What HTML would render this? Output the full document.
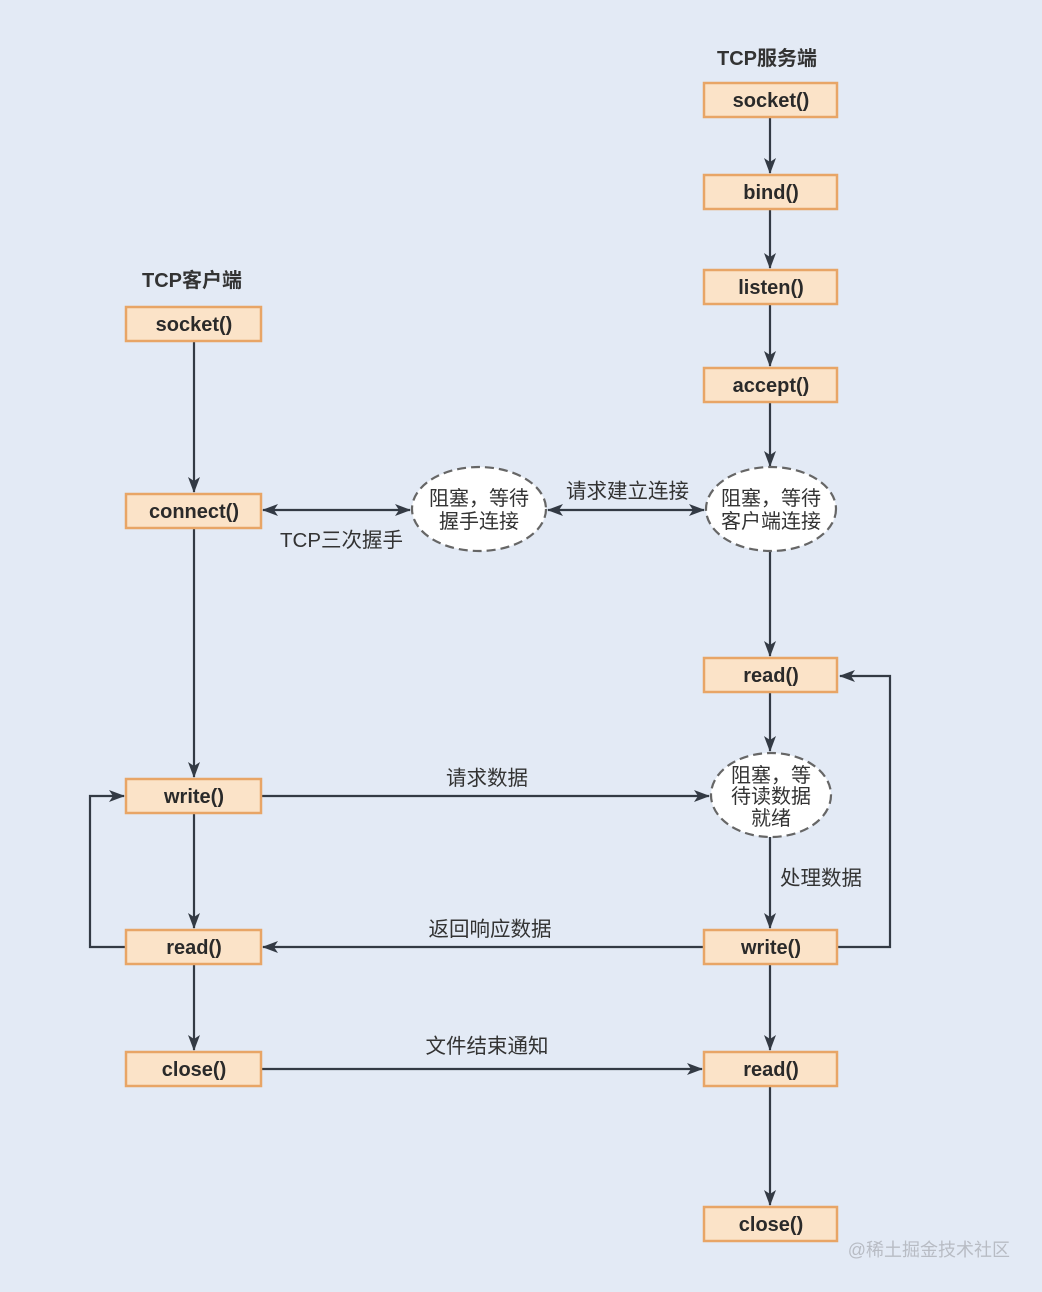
<!DOCTYPE html>
<html><head><meta charset="utf-8"><style>
html,body{margin:0;padding:0;background:#e3eaf5;}
svg{display:block;font-family:"Liberation Sans","Noto Sans CJK SC",sans-serif;}
.b{fill:#fbe3c8;stroke:#e8a566;stroke-width:2.5;}
.bt{font-size:20px;font-weight:bold;fill:#2a2a2a;text-anchor:middle;}
.l{stroke:#333a44;stroke-width:2.2;fill:none;}
.e{fill:#fff;stroke:#666;stroke-width:2.2;stroke-dasharray:9 5;}
.et{font-size:20px;fill:#333;text-anchor:middle;}
.lt{font-size:20.5px;fill:#333;}
</style></head><body>
<svg width="1042" height="1292" viewBox="0 0 1042 1292">
<defs><marker id="a" viewBox="0 0 16 12" refX="15" refY="6" markerWidth="16" markerHeight="12" markerUnits="userSpaceOnUse" orient="auto-start-reverse"><path d="M0,0 L16,6 L0,12 L4,6z" fill="#333a44"/></marker></defs>
<rect width="1042" height="1292" fill="#e3eaf5"/>
<text x="192" y="287" class="lt" font-weight="bold" text-anchor="middle" style="font-size:20px">TCP客户端</text>
<text x="767" y="65" class="lt" font-weight="bold" text-anchor="middle" style="font-size:20px">TCP服务端</text>
<line class="l" x1="194" y1="341" x2="194" y2="492" marker-end="url(#a)"/>
<line class="l" x1="194" y1="528" x2="194" y2="777" marker-end="url(#a)"/>
<line class="l" x1="194" y1="813" x2="194" y2="928" marker-end="url(#a)"/>
<line class="l" x1="194" y1="964" x2="194" y2="1050" marker-end="url(#a)"/>
<polyline class="l" points="126,947 90,947 90,796 124,796" marker-end="url(#a)"/>
<line class="l" x1="770" y1="117" x2="770" y2="173" marker-end="url(#a)"/>
<line class="l" x1="770" y1="209" x2="770" y2="268" marker-end="url(#a)"/>
<line class="l" x1="770" y1="304" x2="770" y2="366" marker-end="url(#a)"/>
<line class="l" x1="770" y1="402" x2="770" y2="466" marker-end="url(#a)"/>
<line class="l" x1="770" y1="551" x2="770" y2="656" marker-end="url(#a)"/>
<line class="l" x1="770" y1="692" x2="770" y2="751" marker-end="url(#a)"/>
<line class="l" x1="770" y1="837" x2="770" y2="928" marker-end="url(#a)"/>
<line class="l" x1="770" y1="964" x2="770" y2="1050" marker-end="url(#a)"/>
<line class="l" x1="770" y1="1086" x2="770" y2="1205" marker-end="url(#a)"/>
<polyline class="l" points="837,947 890,947 890,676 840,676" marker-end="url(#a)"/>
<line class="l" x1="263" y1="510" x2="410" y2="510" marker-start="url(#a)" marker-end="url(#a)"/>
<line class="l" x1="548" y1="510" x2="704" y2="510" marker-start="url(#a)" marker-end="url(#a)"/>
<line class="l" x1="261" y1="796" x2="709" y2="796" marker-end="url(#a)"/>
<line class="l" x1="704" y1="947" x2="263" y2="947" marker-end="url(#a)"/>
<line class="l" x1="261" y1="1069" x2="702" y2="1069" marker-end="url(#a)"/>
<text x="280" y="547" class="lt">TCP三次握手</text>
<text x="566" y="498" class="lt">请求建立连接</text>
<text x="487" y="785" class="lt" text-anchor="middle">请求数据</text>
<text x="490" y="936" class="lt" text-anchor="middle">返回响应数据</text>
<text x="487" y="1053" class="lt" text-anchor="middle">文件结束通知</text>
<text x="780" y="885" class="lt">处理数据</text>
<g>
<rect class="b" x="126" y="307" width="135" height="34"/><text class="bt" x="194" y="331">socket()</text>
<rect class="b" x="126" y="494" width="135" height="34"/><text class="bt" x="194" y="518">connect()</text>
<rect class="b" x="126" y="779" width="135" height="34"/><text class="bt" x="194" y="803">write()</text>
<rect class="b" x="126" y="930" width="135" height="34"/><text class="bt" x="194" y="954">read()</text>
<rect class="b" x="126" y="1052" width="135" height="34"/><text class="bt" x="194" y="1076">close()</text>
<rect class="b" x="704" y="83" width="133" height="34"/><text class="bt" x="771" y="107">socket()</text>
<rect class="b" x="704" y="175" width="133" height="34"/><text class="bt" x="771" y="199">bind()</text>
<rect class="b" x="704" y="270" width="133" height="34"/><text class="bt" x="771" y="294">listen()</text>
<rect class="b" x="704" y="368" width="133" height="34"/><text class="bt" x="771" y="392">accept()</text>
<rect class="b" x="704" y="658" width="133" height="34"/><text class="bt" x="771" y="682">read()</text>
<rect class="b" x="704" y="930" width="133" height="34"/><text class="bt" x="771" y="954">write()</text>
<rect class="b" x="704" y="1052" width="133" height="34"/><text class="bt" x="771" y="1076">read()</text>
<rect class="b" x="704" y="1207" width="133" height="34"/><text class="bt" x="771" y="1231">close()</text>
</g>
<ellipse class="e" cx="479" cy="509" rx="67" ry="42"/>
<text class="et" x="479" y="505">阻塞，等待</text><text class="et" x="479" y="528">握手连接</text>
<ellipse class="e" cx="771" cy="509" rx="65" ry="42"/>
<text class="et" x="771" y="505">阻塞，等待</text><text class="et" x="771" y="528">客户端连接</text>
<ellipse class="e" cx="771" cy="795" rx="60" ry="42"/>
<text class="et" x="771" y="782">阻塞，等</text><text class="et" x="771" y="803">待读数据</text><text class="et" x="771" y="825">就绪</text>
<text x="1010" y="1256" text-anchor="end" style="font-size:18px;fill:#b8bcc4">@稀土掘金技术社区</text>
</svg>
</body></html>
